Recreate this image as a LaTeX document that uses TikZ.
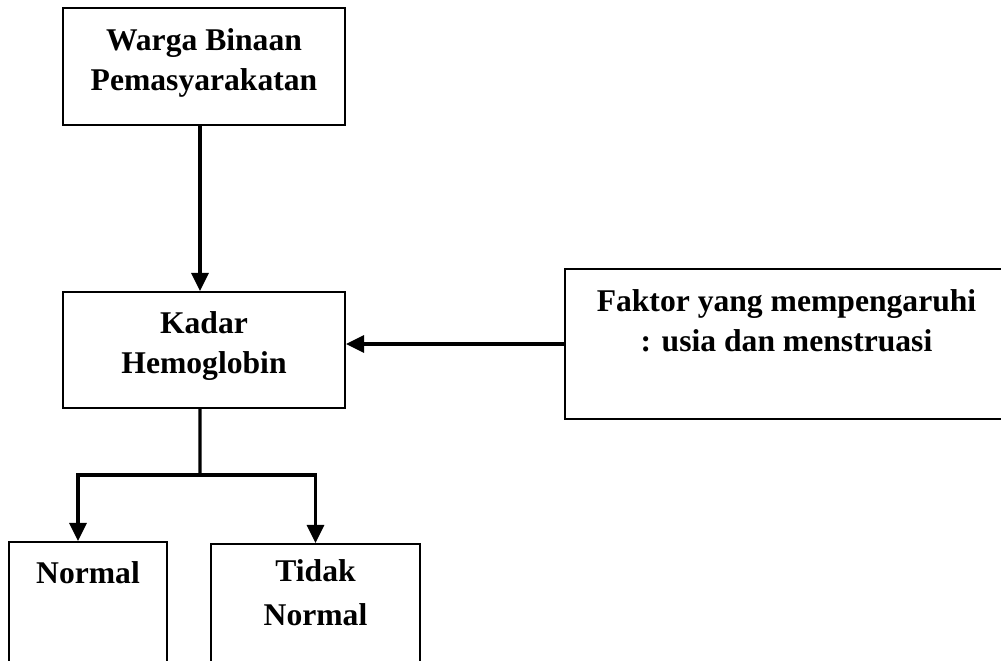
\documentclass[tikz,border=0pt]{standalone}
\usepackage{fontspec}
\setmainfont{Liberation Serif}
\usetikzlibrary{arrows.meta,positioning}

\begin{document}
\begin{tikzpicture}[x=0.02cm,y=-0.02cm,
    box/.style={draw,line width=1.2pt,inner sep=0pt},
    txt/.style={align=center,inner sep=0pt,font=\fontsize{18pt}{23pt}\selectfont\bfseries},
    arr/.style={line width=1.9pt,-{Triangle[width=0.34cm,length=0.36cm]}}]
  \useasboundingbox (0,0) rectangle (1001,660);
  \clip (0,0) rectangle (1001,660);
  \node[box,minimum width=5.64cm,minimum height=2.34cm] (warga) at (204,66.5) {};
  \node[txt,below=0.42cm of warga.north] (wargatxt) {Warga Binaan\\Pemasyarakatan};
  \node[box,minimum width=5.64cm,minimum height=2.32cm] (kadar) at (204,350) {};
  \node[txt,below=0.4cm of kadar.north] (kadartxt) {Kadar\\Hemoglobin};
  \node[box,minimum width=8.86cm,minimum height=3cm] (faktor) at (786.5,344) {};
  \node[txt,below=0.42cm of faktor.north] (faktortxt) {Faktor yang mempengaruhi\\: usia dan menstruasi};
  \node[box,minimum width=3.16cm,minimum height=3.16cm] (normal) at (88,621) {};
  \node[txt,below=0.4cm of normal.north] (normaltxt) {Normal};
  \node[box,minimum width=4.18cm,minimum height=3.12cm] (tidak) at (315.5,622) {};
  \node[txt,below=0.32cm of tidak.north] (tidaktxt) {Tidak\\[2pt]Normal};
  \coordinate (split) at (200,475);
  \draw[arr] ([xshift=-0.08cm]warga.south) -- ([xshift=-0.08cm]kadar.north);
  \draw[arr] (faktor.west) -- (faktor.west -| kadar.east);
  \draw[line width=1.9pt] ([xshift=-0.08cm]kadar.south) -- (split);
  \draw[arr] (split) -| ([xshift=-0.2cm]normal.north);
  \draw[arr] (split) -| (tidak.north);
\end{tikzpicture}
\end{document}
